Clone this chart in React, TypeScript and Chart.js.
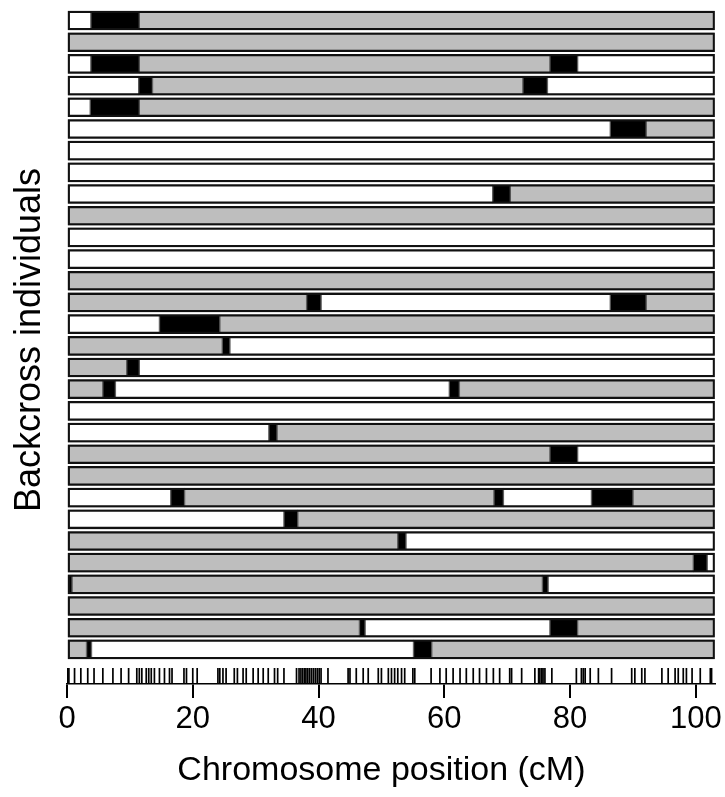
import React, { useEffect, useRef } from 'react';
import { Chart, registerables } from 'chart.js';

Chart.register(...registerables);

// ---- data ----
const chromLength = 103;
const xTickValues = [0, 20, 40, 60, 80, 100];
const xTitle = 'Chromosome position (cM)';
const yTitle = 'Backcross individuals';

// segment end positions (cM) for each backcross individual, top to bottom
const rowStops: number[][] = [
  [3.8, 11.5, 103],
  [103],
  [3.8, 11.5, 76.8, 81.2, 103],
  [11.4, 13.6, 72.5, 76.4, 103],
  [3.7, 11.5, 103],
  [86.4, 92.1, 103],
  [103],
  [103],
  [67.7, 70.5, 103],
  [103],
  [103],
  [103],
  [103],
  [38.1, 40.4, 86.4, 92.1, 103],
  [14.7, 24.3, 103],
  [24.7, 25.9, 103],
  [9.5, 11.5, 103],
  [5.7, 7.7, 60.8, 62.4, 103],
  [103],
  [32.1, 33.4, 103],
  [76.8, 81.2, 103],
  [103],
  [16.5, 18.7, 67.9, 69.4, 83.4, 90.0, 103],
  [34.5, 36.7, 103],
  [52.6, 53.9, 103],
  [99.6, 101.8, 103],
  [0.8, 75.6, 76.5, 103],
  [103],
  [46.5, 47.4, 76.8, 81.2, 103],
  [3.1, 3.9, 55.1, 58.0, 103],
];

// genotype code of each segment: w = white, b = black (crossover interval), g = gray
const rowCodes: string[][] = [
  ['w', 'b', 'g'],
  ['g'],
  ['w', 'b', 'g', 'b', 'w'],
  ['w', 'b', 'g', 'b', 'w'],
  ['w', 'b', 'g'],
  ['w', 'b', 'g'],
  ['w'],
  ['w'],
  ['w', 'b', 'g'],
  ['g'],
  ['w'],
  ['w'],
  ['g'],
  ['g', 'b', 'w', 'b', 'g'],
  ['w', 'b', 'g'],
  ['g', 'b', 'w'],
  ['g', 'b', 'w'],
  ['g', 'b', 'w', 'b', 'g'],
  ['w'],
  ['w', 'b', 'g'],
  ['g', 'b', 'w'],
  ['g'],
  ['w', 'b', 'g', 'b', 'w', 'b', 'g'],
  ['w', 'b', 'g'],
  ['g', 'b', 'w'],
  ['g', 'b', 'w'],
  ['b', 'g', 'b', 'w'],
  ['g'],
  ['g', 'b', 'w', 'b', 'g'],
  ['g', 'b', 'w', 'b', 'g'],
];

// marker positions (cM) shown as rug
const markerPositions: number[] = [
  0, 0.1, 0.3, 1.2, 2.2, 3.3, 4.3, 5.7, 7.3, 8.6, 9.8, 11.1, 11.5, 11.9, 12.6, 13.0,
  13.4, 13.9, 14.7, 15.5, 16.3, 16.7, 18.6, 19.0, 20.0, 20.7, 24.0, 24.3, 24.8, 25.3,
  26.6, 27.1, 28.0, 28.5, 29.6, 30.4, 31.2, 32.0, 33.0, 33.5, 34.5, 36.5, 36.9, 37.2,
  37.5, 37.8, 38.0, 38.3, 38.6, 38.9, 39.2, 39.5, 39.8, 40.1, 40.4, 41.5, 44.7, 45.0,
  46.0, 47.1, 47.9, 49.5, 50.0, 51.1, 51.6, 52.1, 52.6, 53.2, 53.7, 55.0, 55.3, 57.9,
  59.3, 60.3, 61.4, 62.5, 63.5, 64.6, 65.6, 66.7, 67.8, 68.8, 70.4, 70.7, 72.3, 74.4,
  75.0, 75.2, 75.5, 75.7, 76.0, 77.1, 81.0, 81.8, 82.1, 82.4, 83.2, 84.5, 86.6, 89.8,
  90.3, 91.4, 91.9, 94.6, 95.6, 96.7, 97.2, 98.0, 98.5, 99.4, 100.7, 102.3, 102.5,
];

// ---- styling / layout ----
const genoColors: Record<string, string> = { w: '#FFFFFF', b: '#000000', g: '#BEBEBE' };
const FONT = '"Liberation Sans", Arial, Helvetica, sans-serif';
const W = 725;
const H = 797;
const AREA_BOTTOM = 684;
const Y_MIN = 0.5;
const Y_MAX = 31.595;
const RUG_Y = 31.23;

export default function App() {
  const canvasRef = useRef<HTMLCanvasElement | null>(null);

  useEffect(() => {
    document.body.style.margin = '0';
    const canvas = canvasRef.current;
    if (!canvas) return;

    const maxSegs = Math.max(...rowStops.map((r) => r.length));
    const segmentSets: any[] = [];
    for (let k = 0; k < maxSegs; k++) {
      const data: any[] = [];
      const colors: string[] = [];
      rowStops.forEach((stops, r) => {
        if (k < stops.length) {
          const start = k === 0 ? 0 : stops[k - 1];
          data.push({ x: [start, stops[k]], y: r + 1 });
          colors.push(genoColors[rowCodes[r][k]]);
        }
      });
      segmentSets.push({
        type: 'bar',
        data,
        backgroundColor: colors,
        borderColor: '#555555',
        borderWidth: 1,
        borderSkipped: false,
        barThickness: 19,
        grouped: false,
        order: 2,
      });
    }

    const outline = {
      type: 'bar',
      data: rowStops.map((_, r) => ({ x: [0, chromLength], y: r + 1 })),
      backgroundColor: 'rgba(0,0,0,0)',
      borderColor: '#111111',
      borderWidth: 1.6,
      borderSkipped: false,
      barThickness: 19,
      grouped: false,
      order: 1,
    };

    const rug = {
      type: 'scatter',
      data: markerPositions.map((m) => ({ x: m, y: RUG_Y })),
      pointStyle: 'line',
      rotation: 90,
      radius: 8,
      borderColor: '#000000',
      borderWidth: 1.7,
      order: 0,
    };

    const titlePlugin = {
      id: 'axisTitles',
      afterDraw(chart: any) {
        const ctx = chart.ctx;
        const xs = chart.scales.x;
        ctx.save();
        ctx.fillStyle = '#000';
        ctx.textAlign = 'center';
        ctx.textBaseline = 'middle';
        ctx.font = `34px ${FONT}`;
        ctx.fillText(xTitle, xs.getPixelForValue(50), 771);
        ctx.translate(30, 340);
        ctx.rotate(-Math.PI / 2);
        ctx.font = `36px ${FONT}`;
        ctx.fillText(yTitle, 0, 0);
        ctx.restore();
      },
    };

    const chart = new Chart(canvas, {
      type: 'bar',
      data: { datasets: [rug, outline, ...segmentSets] as any },
      options: {
        indexAxis: 'y',
        responsive: false,
        animation: false,
        devicePixelRatio: 1,
        layout: { padding: { left: 67, right: 10, top: 4.575, bottom: 0 } },
        plugins: { legend: { display: false }, tooltip: { enabled: false } },
        scales: {
          x: {
            type: 'linear',
            position: 'bottom',
            min: 0,
            max: chromLength,
            offset: false,
            afterBuildTicks: (s: any) => {
              s.ticks = xTickValues.map((v) => ({ value: v }));
            },
            afterFit: (s: any) => {
              s.height = H - AREA_BOTTOM;
            },
            grid: {
              display: true,
              offset: false,
              drawOnChartArea: false,
              drawTicks: true,
              tickLength: 14,
              color: '#000',
              lineWidth: 2,
            },
            border: { display: true, color: '#000', width: 1.5 },
            ticks: {
              color: '#000',
              font: { size: 31, family: FONT },
              padding: 3,
              maxRotation: 0,
              autoSkip: false,
            },
          },
          y: {
            type: 'linear',
            reverse: true,
            min: Y_MIN,
            max: Y_MAX,
            offset: false,
            grid: { offset: false },
            display: false,
          },
        },
      } as any,
      plugins: [titlePlugin],
    });

    return () => chart.destroy();
  }, []);

  return (
    <div style={{ width: W, height: H }}>
      <canvas ref={canvasRef} width={W} height={H} style={{ display: 'block' }} />
    </div>
  );
}
